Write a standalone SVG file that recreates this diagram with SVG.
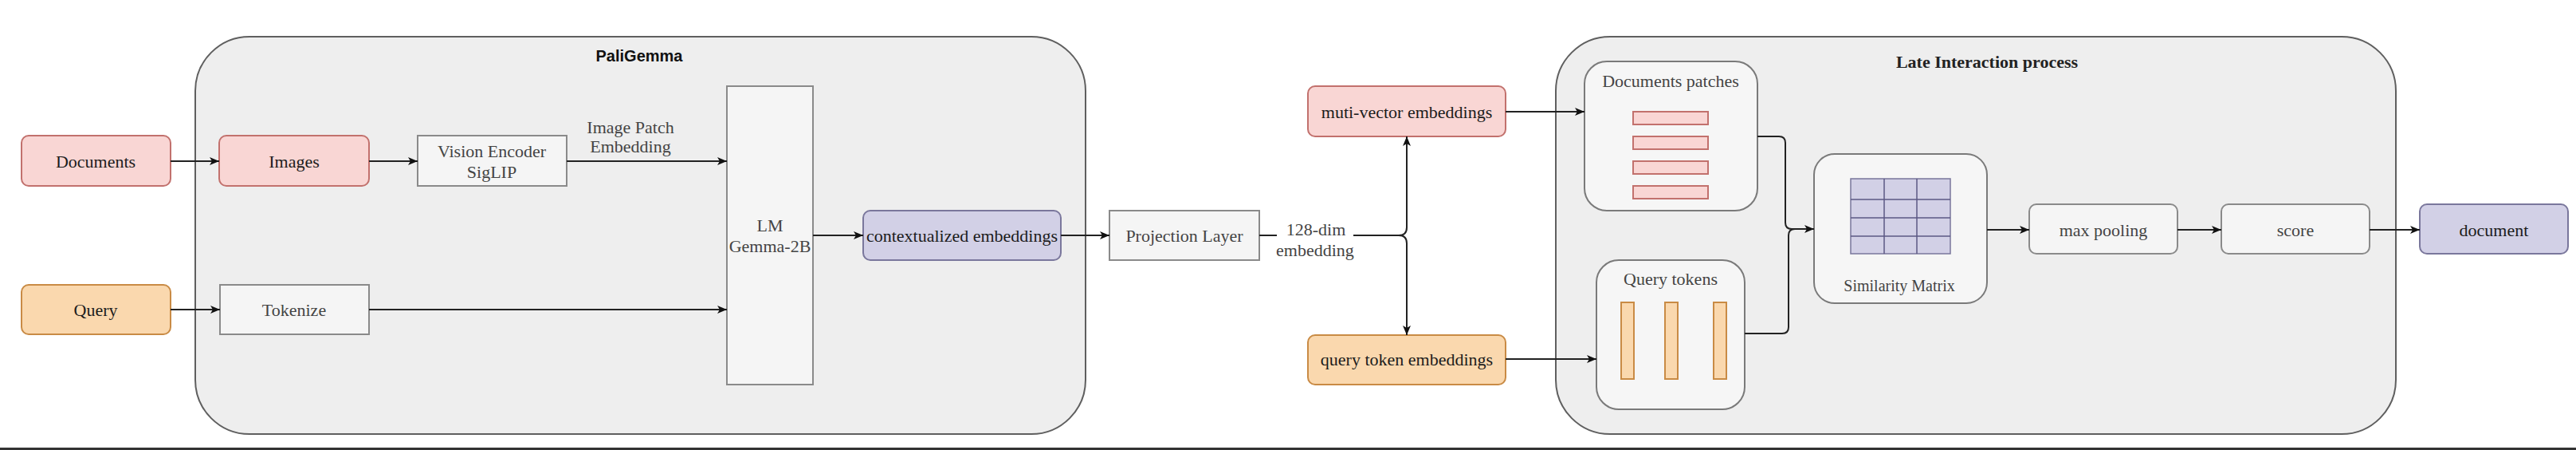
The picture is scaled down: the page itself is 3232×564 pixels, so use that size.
<svg xmlns="http://www.w3.org/2000/svg" width="3232" height="564" viewBox="0 0 3232 564">
<style>
  .t { font-family: "Liberation Serif", "Times New Roman", serif; font-size: 22px; text-anchor: middle; dominant-baseline: central; }
  .dark { fill: #1c1c1c; }
  .gray { fill: #444444; }
  .container { fill: #eeeeee; stroke: #5f5f5f; stroke-width: 2; }
  .white { fill: #f5f5f5; stroke: #8a8a8a; stroke-width: 2; }
  .inner { fill: #f6f6f6; stroke: #7a7a7a; stroke-width: 2; }
  .pink { fill: #f9d6d4; stroke: #c2716d; stroke-width: 2; }
  .orange { fill: #fad8ae; stroke: #c98b45; stroke-width: 2; }
  .purple { fill: #d2d0e6; stroke: #7a779c; stroke-width: 2; }
  .edge { fill: none; stroke: #222222; stroke-width: 2; }
  .grid { fill: none; stroke: #5c5884; stroke-width: 1.5; }
</style>
<defs>
  <marker id="arrow" markerUnits="userSpaceOnUse" markerWidth="13" markerHeight="11" refX="12" refY="5" orient="auto">
    <path d="M0,0 L12,5 L0,10 L3,5 Z" fill="#111111"/>
  </marker>
</defs>

<rect x="0" y="0" width="3232" height="564" fill="#ffffff"/>

<g id="paligemma">
  <rect class="container" x="245" y="46" width="1117" height="498" rx="68"/>
  <text x="802" y="70" style="font-family:'Liberation Sans',Arial,sans-serif;font-size:20px;font-weight:bold;text-anchor:middle;dominant-baseline:central" fill="#111111">PaliGemma</text>
</g>

<g id="late-interaction">
  <rect class="container" x="1952" y="46" width="1054" height="498" rx="68"/>
  <text class="t" x="2493" y="77" style="font-weight:bold" fill="#222222">Late Interaction process</text>
</g>

<g id="documents">
  <rect class="pink" x="27" y="170" width="187" height="63" rx="9"/>
  <text class="t dark" x="120" y="202">Documents</text>
</g>
<g id="images">
  <rect class="pink" x="275" y="170" width="188" height="63" rx="9"/>
  <text class="t dark" x="369" y="202">Images</text>
</g>
<g id="vision-encoder">
  <rect class="white" x="524" y="170" width="187" height="63"/>
  <text class="t gray" x="617" y="189">Vision Encoder</text>
  <text class="t gray" x="617" y="215">SigLIP</text>
</g>
<g id="query">
  <rect class="orange" x="27" y="357" width="187" height="62" rx="9"/>
  <text class="t dark" x="120" y="388">Query</text>
</g>
<g id="tokenize">
  <rect class="white" x="276" y="357" width="187" height="62"/>
  <text class="t gray" x="369" y="388">Tokenize</text>
</g>
<g id="lm">
  <rect class="white" x="912" y="108" width="108" height="374"/>
  <text class="t gray" x="966" y="282">LM</text>
  <text class="t gray" x="966" y="308">Gemma-2B</text>
</g>
<g id="contextualized">
  <rect class="purple" x="1083" y="264" width="248" height="62" rx="9"/>
  <text class="t dark" x="1207" y="295">contextualized embeddings</text>
</g>
<g id="projection">
  <rect class="white" x="1392" y="264" width="188" height="62"/>
  <text class="t gray" x="1486" y="295">Projection Layer</text>
</g>
<g id="multi-vector">
  <rect class="pink" x="1641" y="108" width="248" height="63" rx="9"/>
  <text class="t dark" x="1765" y="140">muti-vector embeddings</text>
</g>
<g id="query-token-embeddings">
  <rect class="orange" x="1641" y="420" width="248" height="62" rx="9"/>
  <text class="t dark" x="1765" y="450">query token embeddings</text>
</g>
<g id="documents-patches">
  <rect class="inner" x="1988" y="77" width="217" height="187" rx="28"/>
  <text class="t gray" x="2096" y="101">Documents patches</text>
  <rect class="pink" x="2049" y="140" width="94" height="16"/>
  <rect class="pink" x="2049" y="171" width="94" height="16"/>
  <rect class="pink" x="2049" y="202" width="94" height="16"/>
  <rect class="pink" x="2049" y="233" width="94" height="16"/>
</g>
<g id="query-tokens">
  <rect class="inner" x="2003" y="326" width="186" height="187" rx="28"/>
  <text class="t gray" x="2096" y="349">Query tokens</text>
  <rect class="orange" x="2034" y="379" width="16" height="96"/>
  <rect class="orange" x="2089" y="379" width="16" height="96"/>
  <rect class="orange" x="2150" y="379" width="16" height="96"/>
</g>
<g id="similarity-matrix">
  <rect class="inner" x="2276" y="193" width="217" height="187" rx="26"/>
  <rect class="purple" x="2322" y="224" width="125" height="94" style="stroke-width:1.5"/>
  <path class="grid" d="M2364,224 V318 M2405,224 V318 M2322,250 H2447 M2322,273 H2447 M2322,296 H2447"/>
  <text class="t gray" x="2383" y="358" style="font-size:20px">Similarity Matrix</text>
</g>
<g id="max-pooling">
  <rect class="white" x="2546" y="256" width="186" height="62" rx="9"/>
  <text class="t gray" x="2639" y="288">max pooling</text>
</g>
<g id="score">
  <rect class="white" x="2787" y="256" width="186" height="62" rx="9"/>
  <text class="t gray" x="2880" y="288">score</text>
</g>
<g id="document">
  <rect class="purple" x="3036" y="256" width="186" height="62" rx="9"/>
  <text class="t dark" x="3129" y="288">document</text>
</g>

<g id="connectors">
  <path class="edge" d="M214,202 H275" marker-end="url(#arrow)"/>
  <path class="edge" d="M463,202 H524" marker-end="url(#arrow)"/>
  <path class="edge" d="M711,202 H912" marker-end="url(#arrow)"/>
  <text class="t gray" x="791" y="159">Image Patch</text>
  <text class="t gray" x="791" y="183">Embedding</text>
  <path class="edge" d="M214,388 H276" marker-end="url(#arrow)"/>
  <path class="edge" d="M463,388 H912" marker-end="url(#arrow)"/>
  <path class="edge" d="M1020,295 H1083" marker-end="url(#arrow)"/>
  <path class="edge" d="M1331,295 H1392" marker-end="url(#arrow)"/>
  <path class="edge" d="M1580,295 H1602 M1698,295 H1755 Q1765,295 1765,285 V171" marker-end="url(#arrow)"/>
  <path class="edge" d="M1755,295 Q1765,295 1765,305 V420" marker-end="url(#arrow)"/>
  <text class="t gray" x="1651" y="287">128-dim</text>
  <text class="t gray" x="1650" y="313">embedding</text>
  <path class="edge" d="M1889,140 H1988" marker-end="url(#arrow)"/>
  <path class="edge" d="M1889,450 H2003" marker-end="url(#arrow)"/>
  <path class="edge" d="M2205,171 H2232 Q2240,171 2240,179 V279 Q2240,287 2248,287 H2276" marker-end="url(#arrow)"/>
  <path class="edge" d="M2189,418 H2236 Q2244,418 2244,410 V295 Q2244,287 2252,287 H2262"/>
  <path class="edge" d="M2493,288 H2546" marker-end="url(#arrow)"/>
  <path class="edge" d="M2732,288 H2787" marker-end="url(#arrow)"/>
  <path class="edge" d="M2973,288 H3036" marker-end="url(#arrow)"/>
</g>

<rect x="0" y="561" width="3232" height="3" fill="#333333"/>
</svg>
